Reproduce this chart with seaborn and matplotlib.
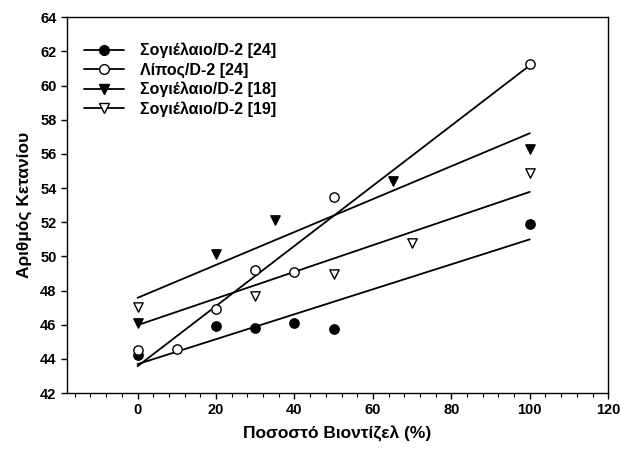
import matplotlib
matplotlib.use("Agg")
import matplotlib.pyplot as plt
from matplotlib.lines import Line2D
from matplotlib.ticker import MultipleLocator
import seaborn as sns
import pandas as pd

sns.set_style("ticks")
plt.rcParams['font.family'] = ['Liberation Sans', 'DejaVu Sans']
plt.rcParams.update({'text.color': 'black', 'axes.labelcolor': 'black',
                     'xtick.color': 'black', 'ytick.color': 'black',
                     'axes.edgecolor': 'black'})

labels = ["Σογιέλαιο/D-2 [24]", "Λίπος/D-2 [24]", "Σογιέλαιο/D-2 [18]", "Σογιέλαιο/D-2 [19]"]
x1 = [0, 20, 30, 40, 50, 100]
y1 = [44.25, 45.9, 45.8, 46.1, 45.75, 51.87]
x2 = [0, 10, 20, 30, 40, 50, 100]
y2 = [44.5, 44.6, 46.9, 49.2, 49.1, 53.45, 61.25]
x3 = [0, 20, 35, 65, 100]
y3 = [46.1, 50.15, 52.1, 54.4, 56.3]
x4 = [0, 30, 50, 70, 100]
y4 = [47.05, 47.7, 48.96, 50.8, 54.86]

series = [
    (x1, y1, 'o', 'black'),
    (x2, y2, 'o', 'white'),
    (x3, y3, 'v', 'black'),
    (x4, y4, 'v', 'white'),
]

fig = plt.figure(figsize=(6.2, 4.49), dpi=100)
ax = fig.add_axes([0.108, 0.1247, 0.873, 0.837])

handles = []
for (xs, ys, m, fc), lab in zip(series, labels):
    df = pd.DataFrame({"x": xs, "y": ys})
    sns.regplot(data=df, x="x", y="y", ax=ax, ci=None, color="black",
                marker=m,
                scatter_kws=dict(s=45, facecolors=fc, edgecolors="black",
                                 linewidths=1.0, alpha=1, zorder=3),
                line_kws=dict(lw=1.3, color="black", zorder=2))
    handles.append(Line2D([], [], color="black", lw=1.3, marker=m,
                          markersize=7, markerfacecolor=fc,
                          markeredgecolor="black"))

ax.set_xlim(-18, 120)
ax.set_ylim(42, 64)
ax.xaxis.set_major_locator(MultipleLocator(20))
ax.xaxis.set_minor_locator(MultipleLocator(4))
ax.yaxis.set_major_locator(MultipleLocator(2))
ax.tick_params(axis='both', which='major', direction='out', length=4,
               width=1, labelsize=10.5, colors='black')
ax.tick_params(axis='x', which='minor', direction='out', length=3, width=0.8,
               colors='black')
for lab in ax.get_xticklabels() + ax.get_yticklabels():
    lab.set_fontweight('bold')
for sp in ax.spines.values():
    sp.set_linewidth(1.0)
    sp.set_color('black')

ax.set_xlabel("Ποσοστό Βιοντίζελ (%)", fontsize=12.5, fontweight='bold',
              labelpad=6, color='black')
ax.set_ylabel("Αριθμός Κετανίου", fontsize=12.5, fontweight='bold',
              labelpad=6, color='black')

leg = ax.legend(handles, labels, loc='upper left', bbox_to_anchor=(0.005, 0.97),
                frameon=False, fontsize=11.5, handlelength=2.5,
                labelspacing=0.25, handletextpad=1.0)
for t in leg.get_texts():
    t.set_fontweight('bold')
    t.set_color('black')

fig.savefig("out.png", dpi=100)
